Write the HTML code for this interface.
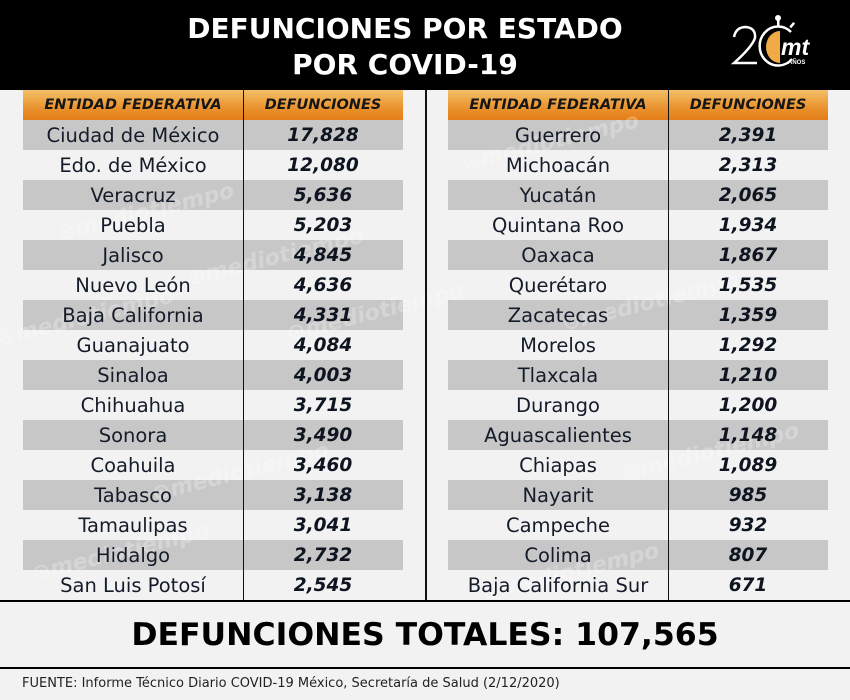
<!DOCTYPE html>
<html><head><meta charset="utf-8">
<style>
*{margin:0;padding:0;box-sizing:border-box}
html,body{width:850px;height:700px;overflow:hidden;background:#f2f2f2}
body{position:relative;font-family:"DejaVu Sans","Liberation Sans",sans-serif}
.hdr{position:absolute;left:0;top:0;width:850px;height:90px;background:#000}
.title{position:absolute;left:0;width:810px;text-align:center;color:#fff;font-weight:bold;font-size:28px;line-height:32px}
.th{position:absolute;top:90px;height:30px;background:linear-gradient(#f4c068,#e9922e 60%,#e47d18);}
.thc{position:absolute;top:90px;height:30px;line-height:30px;text-align:center;font-weight:bold;font-style:italic;font-size:14.5px;color:#161616}
.gr{position:absolute;height:30px;background:#c7c7c7}
.cell{position:absolute;height:30px;line-height:32px;text-align:center;color:#151c29;font-size:19.5px;white-space:nowrap}
.num{position:absolute;height:30px;line-height:31px;text-align:center;color:#0f1520;font-size:18.5px;font-weight:bold;font-style:italic}
.vl{position:absolute;top:90px;height:511px;width:1.5px;background:#111}
.hl{position:absolute;left:0;width:850px;height:2px;background:#000}
.total{position:absolute;left:0;width:850px;top:615px;text-align:center;font-weight:bold;font-size:31.5px;line-height:40px;color:#000}
.src{position:absolute;left:22px;top:676px;font-size:13px;color:#222;white-space:nowrap}
.wm{position:absolute;color:#fff;opacity:.25;font-weight:bold;font-style:italic;font-size:22px;transform:rotate(-14deg);white-space:nowrap}
</style></head><body>
<div class="hdr"></div>
<div class="title" style="top:13px">DEFUNCIONES POR ESTADO</div>
<div class="title" style="top:49px">POR COVID-19</div>
<svg style="position:absolute;left:725px;top:12px" width="100" height="62" viewBox="725 12 100 62">
 <path d="M734 37 Q736 27 746 27 Q756 28 755 38 Q752 47 734 63 L757 63" fill="none" stroke="#fff" stroke-width="2.5"/>
 <path d="M780 31 A14 16 0 0 0 780 63 Z" fill="#f2aa45"/>
 <path d="M792 59 A18.5 19.5 0 1 1 791 32" fill="none" stroke="#fff" stroke-width="2.5"/>
 <rect x="777" y="20" width="2.5" height="7" fill="#fff"/>
 <circle cx="778" cy="18" r="3" fill="#fff"/>
 <rect x="791" y="22" width="2.5" height="6" fill="#fff" transform="rotate(40 792 25)"/>
 <text x="781" y="55" fill="#fff" font-family="Liberation Sans" font-weight="bold" font-style="italic" font-size="23">mt</text>
 <text x="788" y="64" fill="#fff" font-family="Liberation Sans" font-weight="bold" font-size="6">AÑOS</text>
</svg>

<div class="th" style="left:23px;width:380px"></div>
<div class="th" style="left:448px;width:380px"></div>
<div class="thc" style="left:23px;width:220px">ENTIDAD FEDERATIVA</div>
<div class="thc" style="left:243px;width:160px">DEFUNCIONES</div>
<div class="thc" style="left:448px;width:220px">ENTIDAD FEDERATIVA</div>
<div class="thc" style="left:668px;width:160px">DEFUNCIONES</div>

<div class="gr" style="left:23px;top:120px;width:380px"></div><div class="gr" style="left:448px;top:120px;width:380px"></div>
<div class="gr" style="left:23px;top:180px;width:380px"></div><div class="gr" style="left:448px;top:180px;width:380px"></div>
<div class="gr" style="left:23px;top:240px;width:380px"></div><div class="gr" style="left:448px;top:240px;width:380px"></div>
<div class="gr" style="left:23px;top:300px;width:380px"></div><div class="gr" style="left:448px;top:300px;width:380px"></div>
<div class="gr" style="left:23px;top:360px;width:380px"></div><div class="gr" style="left:448px;top:360px;width:380px"></div>
<div class="gr" style="left:23px;top:420px;width:380px"></div><div class="gr" style="left:448px;top:420px;width:380px"></div>
<div class="gr" style="left:23px;top:480px;width:380px"></div><div class="gr" style="left:448px;top:480px;width:380px"></div>
<div class="gr" style="left:23px;top:540px;width:380px"></div><div class="gr" style="left:448px;top:540px;width:380px"></div>

<div class="wm" style="left:55px;top:200px">⊙mediotiempo</div>
<div class="wm" style="left:185px;top:245px">⊙mediotiempo</div>
<div class="wm" style="left:-5px;top:305px">⊙mediotiempo</div>
<div class="wm" style="left:285px;top:300px">⊙mediotiempo</div>
<div class="wm" style="left:460px;top:130px">⊙mediotiempo</div>
<div class="wm" style="left:560px;top:290px">⊙mediotiempo</div>
<div class="wm" style="left:150px;top:460px">⊙mediotiempo</div>
<div class="wm" style="left:620px;top:440px">⊙mediotiempo</div>
<div class="wm" style="left:30px;top:540px">⊙mediotiempo</div>
<div class="wm" style="left:480px;top:560px">⊙mediotiempo</div>

<!-- left column -->
<div class="cell" style="left:23px;width:220px;top:120px">Ciudad de México</div><div class="num" style="left:243px;width:160px;top:120px">17,828</div>
<div class="cell" style="left:23px;width:220px;top:150px">Edo. de México</div><div class="num" style="left:243px;width:160px;top:150px">12,080</div>
<div class="cell" style="left:23px;width:220px;top:180px">Veracruz</div><div class="num" style="left:243px;width:160px;top:180px">5,636</div>
<div class="cell" style="left:23px;width:220px;top:210px">Puebla</div><div class="num" style="left:243px;width:160px;top:210px">5,203</div>
<div class="cell" style="left:23px;width:220px;top:240px">Jalisco</div><div class="num" style="left:243px;width:160px;top:240px">4,845</div>
<div class="cell" style="left:23px;width:220px;top:270px">Nuevo León</div><div class="num" style="left:243px;width:160px;top:270px">4,636</div>
<div class="cell" style="left:23px;width:220px;top:300px">Baja California</div><div class="num" style="left:243px;width:160px;top:300px">4,331</div>
<div class="cell" style="left:23px;width:220px;top:330px">Guanajuato</div><div class="num" style="left:243px;width:160px;top:330px">4,084</div>
<div class="cell" style="left:23px;width:220px;top:360px">Sinaloa</div><div class="num" style="left:243px;width:160px;top:360px">4,003</div>
<div class="cell" style="left:23px;width:220px;top:390px">Chihuahua</div><div class="num" style="left:243px;width:160px;top:390px">3,715</div>
<div class="cell" style="left:23px;width:220px;top:420px">Sonora</div><div class="num" style="left:243px;width:160px;top:420px">3,490</div>
<div class="cell" style="left:23px;width:220px;top:450px">Coahuila</div><div class="num" style="left:243px;width:160px;top:450px">3,460</div>
<div class="cell" style="left:23px;width:220px;top:480px">Tabasco</div><div class="num" style="left:243px;width:160px;top:480px">3,138</div>
<div class="cell" style="left:23px;width:220px;top:510px">Tamaulipas</div><div class="num" style="left:243px;width:160px;top:510px">3,041</div>
<div class="cell" style="left:23px;width:220px;top:540px">Hidalgo</div><div class="num" style="left:243px;width:160px;top:540px">2,732</div>
<div class="cell" style="left:23px;width:220px;top:570px">San Luis Potosí</div><div class="num" style="left:243px;width:160px;top:570px">2,545</div>

<!-- right column -->
<div class="cell" style="left:448px;width:220px;top:120px">Guerrero</div><div class="num" style="left:668px;width:160px;top:120px">2,391</div>
<div class="cell" style="left:448px;width:220px;top:150px">Michoacán</div><div class="num" style="left:668px;width:160px;top:150px">2,313</div>
<div class="cell" style="left:448px;width:220px;top:180px">Yucatán</div><div class="num" style="left:668px;width:160px;top:180px">2,065</div>
<div class="cell" style="left:448px;width:220px;top:210px">Quintana Roo</div><div class="num" style="left:668px;width:160px;top:210px">1,934</div>
<div class="cell" style="left:448px;width:220px;top:240px">Oaxaca</div><div class="num" style="left:668px;width:160px;top:240px">1,867</div>
<div class="cell" style="left:448px;width:220px;top:270px">Querétaro</div><div class="num" style="left:668px;width:160px;top:270px">1,535</div>
<div class="cell" style="left:448px;width:220px;top:300px">Zacatecas</div><div class="num" style="left:668px;width:160px;top:300px">1,359</div>
<div class="cell" style="left:448px;width:220px;top:330px">Morelos</div><div class="num" style="left:668px;width:160px;top:330px">1,292</div>
<div class="cell" style="left:448px;width:220px;top:360px">Tlaxcala</div><div class="num" style="left:668px;width:160px;top:360px">1,210</div>
<div class="cell" style="left:448px;width:220px;top:390px">Durango</div><div class="num" style="left:668px;width:160px;top:390px">1,200</div>
<div class="cell" style="left:448px;width:220px;top:420px">Aguascalientes</div><div class="num" style="left:668px;width:160px;top:420px">1,148</div>
<div class="cell" style="left:448px;width:220px;top:450px">Chiapas</div><div class="num" style="left:668px;width:160px;top:450px">1,089</div>
<div class="cell" style="left:448px;width:220px;top:480px">Nayarit</div><div class="num" style="left:668px;width:160px;top:480px">985</div>
<div class="cell" style="left:448px;width:220px;top:510px">Campeche</div><div class="num" style="left:668px;width:160px;top:510px">932</div>
<div class="cell" style="left:448px;width:220px;top:540px">Colima</div><div class="num" style="left:668px;width:160px;top:540px">807</div>
<div class="cell" style="left:448px;width:220px;top:570px">Baja California Sur</div><div class="num" style="left:668px;width:160px;top:570px">671</div>

<div class="vl" style="left:242.5px"></div>
<div class="vl" style="left:425px"></div>
<div class="vl" style="left:667.5px"></div>

<div class="hl" style="top:600px"></div>
<div class="total">DEFUNCIONES TOTALES: 107,565</div>
<div class="hl" style="top:667px"></div>
<div class="src">FUENTE: Informe Técnico Diario COVID-19 México, Secretaría de Salud (2/12/2020)</div>
</body></html>
